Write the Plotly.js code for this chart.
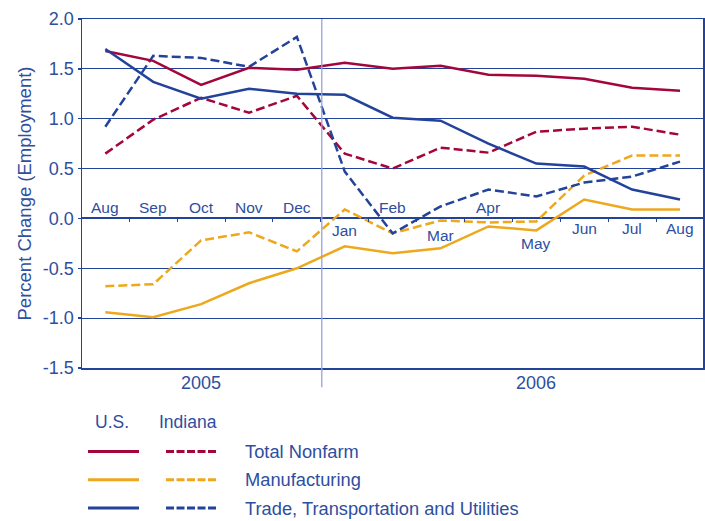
<!DOCTYPE html>
<html>
<head>
<meta charset="utf-8">
<script src="https://cdn.plot.ly/plotly-3.0.1.min.js"></script>
<style>
html,body{margin:0;padding:0;background:#fff;}
#chart{width:705px;height:521px;}
</style>
</head>
<body>
<div id="chart"></div>
<script>
// ---- data ----
const months = ["Aug","Sep","Oct","Nov","Dec","Jan","Feb","Mar","Apr","May","Jun","Jul","Aug"];
const years = ["2005","2006"];
const nonfarmUS = [1.68,1.58,1.34,1.51,1.49,1.56,1.50,1.53,1.44,1.43,1.40,1.31,1.28];
const nonfarmIN = [0.65,0.99,1.21,1.06,1.23,0.65,0.50,0.71,0.66,0.87,0.90,0.92,0.84];
const mfgUS = [-0.94,-0.99,-0.86,-0.65,-0.50,-0.28,-0.35,-0.30,-0.08,-0.12,0.19,0.09,0.09];
const mfgIN = [-0.68,-0.66,-0.22,-0.14,-0.33,0.09,-0.15,-0.02,-0.04,-0.03,0.43,0.63,0.63];
const tradeUS = [1.70,1.37,1.20,1.30,1.25,1.24,1.01,0.98,0.75,0.55,0.52,0.29,0.19];
const tradeIN = [0.92,1.63,1.61,1.52,1.82,0.47,-0.15,0.12,0.29,0.22,0.36,0.42,0.57];
const seriesNames = ["Total Nonfarm","Manufacturing","Trade, Transportation and Utilities"];
const yTicks = [-1.5,-1.0,-0.5,0.0,0.5,1.0,1.5,2.0];

// ---- styling / layout ----
const RED = "#A3063A", ORANGE = "#EDA81C", BLUE = "#23439B", TXT = "#2E4EA0";
const colors = [RED, ORANGE, BLUE];
const FONT = "Liberation Sans, Arial, Helvetica, sans-serif";
const dashChart = "9px,4px";
const idx = months.map((_, i) => i);
// vertical placement of month labels (layout, not data)
const monthLabelY = [0.11,0.11,0.11,0.11,0.11,-0.12,0.11,-0.17,0.11,-0.25,-0.10,-0.10,-0.10];

const usSeries = [nonfarmUS, mfgUS, tradeUS];
const inSeries = [nonfarmIN, mfgIN, tradeIN];
const traces = [];
for (let k = 0; k < 3; k++) {
  traces.push({x: idx, y: inSeries[k], type: "scatter", mode: "lines",
    line: {color: colors[k], width: 2.5, dash: dashChart}, name: seriesNames[k] + " (Indiana)", hoverinfo: "y"});
}
for (let k = 0; k < 3; k++) {
  traces.push({x: idx, y: usSeries[k], type: "scatter", mode: "lines",
    line: {color: colors[k], width: 2.5}, name: seriesNames[k] + " (U.S.)", hoverinfo: "y"});
}
// ticks on zero line via overlay axis
traces.push({x: [0], y: [0], xaxis: "x2", yaxis: "y", mode: "markers", marker: {opacity: 0}, showlegend: false, hoverinfo: "skip"});

const xr = [-0.487, 12.48];
const yr = [-1.5, 2.0];

const annotations = months.map((m, i) => ({
  x: i, y: monthLabelY[i], xref: "x", yref: "y", text: m, showarrow: false,
  font: {family: FONT, size: 15.5, color: TXT}, xanchor: "center", yanchor: "middle"
}));
annotations.push({x: 2, y: -0.043, xref: "x", yref: "paper", text: years[0], showarrow: false,
  font: {family: FONT, size: 18, color: TXT}, yanchor: "middle"});
annotations.push({x: 9, y: -0.043, xref: "x", yref: "paper", text: years[1], showarrow: false,
  font: {family: FONT, size: 18, color: TXT}, yanchor: "middle"});

// custom legend
const lgRows = [-0.2395, -0.3205, -0.4014];
annotations.push({x: 0.0483, y: -0.1545, xref: "paper", yref: "paper", text: "U.S.", showarrow: false,
  font: {family: FONT, size: 17.5, color: TXT}, xanchor: "center", yanchor: "middle"});
annotations.push({x: 0.1707, y: -0.1545, xref: "paper", yref: "paper", text: "Indiana", showarrow: false,
  font: {family: FONT, size: 17.5, color: TXT}, xanchor: "center", yanchor: "middle"});
const shapes = [];
for (let k = 0; k < 3; k++) {
  annotations.push({x: 0.2593, y: lgRows[k], xref: "paper", yref: "paper", text: seriesNames[k], showarrow: false,
    font: {family: FONT, size: 18.3, color: TXT}, xanchor: "left", yanchor: "middle"});
  shapes.push({type: "line", xref: "paper", yref: "paper", x0: 0.0097, x1: 0.0918, y0: lgRows[k], y1: lgRows[k],
    line: {color: colors[k], width: 3}});
  shapes.push({type: "line", xref: "paper", yref: "paper", x0: 0.1353, x1: 0.2158, y0: lgRows[k], y1: lgRows[k],
    line: {color: colors[k], width: 3, dash: "8px,2.5px"}});
}
// year separator
shapes.push({type: "line", xref: "x", yref: "paper", x0: 4.52, x1: 4.52, y0: -0.055, y1: 1,
  line: {color: "#97A2DA", width: 1.3}, layer: "above"});

const layout = {
  width: 705, height: 521,
  margin: {l: 82, r: 2, t: 18.5, b: 153},
  paper_bgcolor: "#fff", plot_bgcolor: "#fff",
  showlegend: false,
  font: {family: FONT, color: TXT},
  xaxis: {range: xr, showgrid: false, zeroline: false, showticklabels: false, ticks: "",
    showline: true, linecolor: BLUE, linewidth: 1.5, mirror: true, fixedrange: true},
  xaxis2: {range: xr, overlaying: "x", anchor: "free", position: (0 - yr[0]) / (yr[1] - yr[0]),
    tickvals: idx.slice(0, 12).map(i => i + 0.5), ticks: "outside", ticklen: 3, tickwidth: 1, tickcolor: BLUE,
    showticklabels: false, showgrid: false, zeroline: false, showline: false},
  yaxis: {range: yr, tickvals: yTicks, ticktext: yTicks.map(v => v.toFixed(1)),
    ticks: "outside", ticklen: 3, tickcolor: BLUE, tickwidth: 1.5,
    tickfont: {family: FONT, size: 18, color: TXT},
    showgrid: true, gridcolor: BLUE, gridwidth: 1.2,
    zeroline: true, zerolinecolor: BLUE, zerolinewidth: 2,
    showline: true, linecolor: BLUE, linewidth: 1.5, mirror: true,
    title: {text: "Percent Change (Employment)", font: {family: FONT, size: 18.5, color: TXT}, standoff: 6}},
  annotations: annotations,
  shapes: shapes
};

Plotly.newPlot("chart", traces, layout, {staticPlot: true, displayModeBar: false});
</script>
</body>
</html>
